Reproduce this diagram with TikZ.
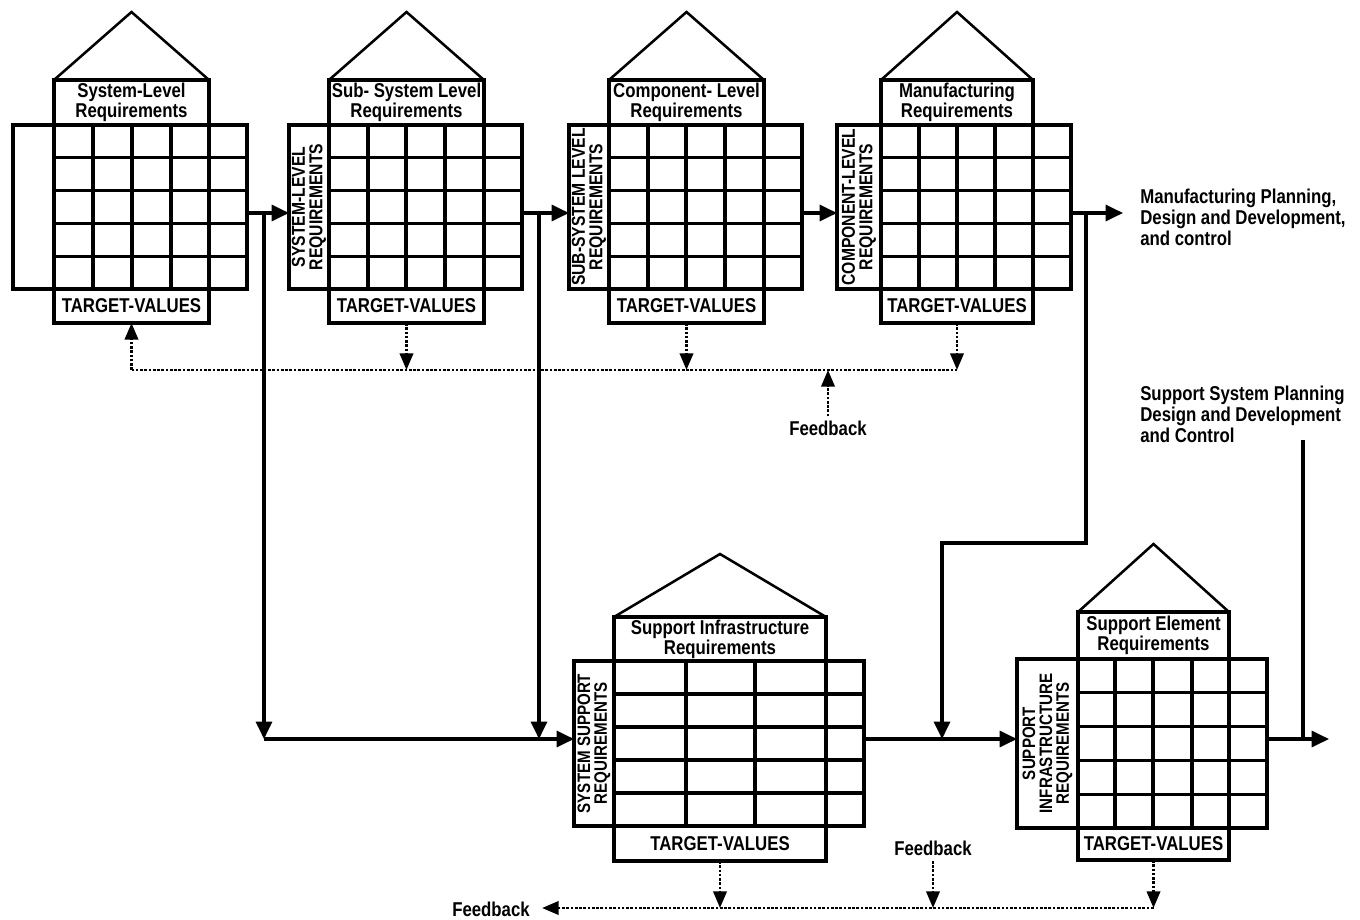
\documentclass[tikz,border=0pt]{standalone}
\usepackage{fontspec}
\setmainfont{Liberation Sans}[FakeStretch=0.84]
\usetikzlibrary{arrows.meta,fit,calc}
\newcommand\qfdtitlefont{\bfseries\fontsize{15}{15.2}\selectfont}
\newcommand\qfdsidefont{\bfseries\fontsize{15}{15.75}\selectfont}
\newcommand\qfdvfont{\bfseries\fontsize{14}{13.2}\selectfont}
\newcommand\qfdvsmallfont{\bfseries\fontsize{13.5}{12.6}\selectfont}
\tikzset{
  box/.style={draw, line width=2.3pt, inner sep=0pt, outer sep=0pt},
  gl/.style={line width=2.3pt},
  roof/.style={line width=1.9pt, line join=miter},
  arr/.style={line width=2.3pt, -{Triangle[length=13pt,width=12pt]}},
  ln/.style={line width=2.3pt},
  fb/.style={line width=2.1pt, dash pattern=on 2pt off 1.2pt},
  fbarr/.style={fb, -{Triangle[length=12.5pt,width=10pt]}},
  ttl/.style={font=\qfdtitlefont, align=center, inner sep=0pt},
  vlab/.style={font=\qfdvfont, align=center, rotate=90, inner sep=0pt},
  vlabs/.style={font=\qfdvsmallfont, align=center, rotate=90, inner sep=0pt},
  side/.style={font=\qfdsidefont, align=left, anchor=west, inner sep=0pt}
}
% #1 name, #2 left-box x, #3 grid x, #4 title right x, #5 grid right x,
% #6 roof-base y, #7 grid top y, #8 grid bottom y, #9 target-values bottom y
\newcommand\qfdhouse[9]{%
  \coordinate (#1-a) at (#2,#7);
  \coordinate (#1-b) at (#5,#8);
  \node[box, fit=(#1-a)(#1-b)] (#1-m) {};
  \coordinate (#1-c) at (#3,#6);
  \coordinate (#1-d) at (#4,#7);
  \node[box, fit=(#1-c)(#1-d)] (#1-t) {};
  \coordinate (#1-e) at (#3,#8);
  \coordinate (#1-f) at (#4,#9);
  \node[box, fit=(#1-e)(#1-f)] (#1-v) {};
  \node[ttl] at (#1-v) {TARGET-VALUES};
  \draw[gl] (#3,#7) -- (#3,#8);
  \foreach \k in {1,2,3,4} \draw[gl] (#3,{#7+(#8-#7)*\k/5}) -- (#5,{#7+(#8-#7)*\k/5});
}
\begin{document}
\begin{tikzpicture}[x=0.75pt,y=-0.75pt]
\fill[white] (0,0) rectangle (1360,920);
\useasboundingbox (0,0) rectangle (1360,920);

% ---- house 1
\qfdhouse{h1}{13}{54}{209}{247}{80}{125}{289}{323}
\foreach \x in {93,132,171,209} \draw[gl] (\x,125) -- (\x,289);
\coordinate (h1-p) at (131.5,12);
\draw[roof] (h1-t.north west) -- (h1-p) -- (h1-t.north east);
\node[ttl] at (h1-t) {System-Level\\Requirements};

% ---- house 2
\qfdhouse{h2}{289}{329}{484}{522}{80}{125}{289}{323}
\foreach \x in {368,406,445,484} \draw[gl] (\x,125) -- (\x,289);
\coordinate (h2-p) at (406.5,12);
\draw[roof] (h2-t.north west) -- (h2-p) -- (h2-t.north east);
\node[ttl] at (h2-t) {Sub- System Level\\Requirements};
\node[vlab] at ($(h2-a)!0.5!(h2-e)$) {SYSTEM-LEVEL\\REQUIREMENTS};

% ---- house 3
\qfdhouse{h3}{569}{609}{764}{802}{80}{125}{289}{323}
\foreach \x in {648,686,725,764} \draw[gl] (\x,125) -- (\x,289);
\coordinate (h3-p) at (686.5,12);
\draw[roof] (h3-t.north west) -- (h3-p) -- (h3-t.north east);
\node[ttl] at (h3-t) {Component- Level\\Requirements};
\node[vlab] at ($(h3-a)!0.5!(h3-e)$) {SUB-SYSTEM LEVEL\\REQUIREMENTS};

% ---- house 4
\qfdhouse{h4}{837}{881}{1033}{1071}{80}{125}{289}{323}
\foreach \x in {919,957,995,1033} \draw[gl] (\x,125) -- (\x,289);
\coordinate (h4-p) at (957,12);
\draw[roof] (h4-t.north west) -- (h4-p) -- (h4-t.north east);
\node[ttl] at (h4-t) {Manufacturing\\Requirements};
\node[vlab] at ($(h4-a)!0.5!(h4-e)$) {COMPONENT-LEVEL\\REQUIREMENTS};

% ---- house 5
\qfdhouse{h5}{574}{614}{826}{864}{617}{661}{826}{861}
\foreach \x in {686,755,826} \draw[gl] (\x,661) -- (\x,826);
\coordinate (h5-p) at (720,554);
\draw[roof] (h5-t.north west) -- (h5-p) -- (h5-t.north east);
\node[ttl] at (h5-t) {Support Infrastructure\\Requirements};
\node[vlabs] at ($(h5-a)!0.5!(h5-e)$) {SYSTEM SUPPORT\\REQUIREMENTS};

% ---- house 6
\qfdhouse{h6}{1017}{1078}{1229}{1267}{612}{659}{828}{860}
\foreach \x in {1115,1153,1192,1229} \draw[gl] (\x,659) -- (\x,828);
\coordinate (h6-p) at (1153.5,544);
\draw[roof] (h6-t.north west) -- (h6-p) -- (h6-t.north east);
\node[ttl] at (h6-t) {Support Element\\Requirements};
\node[vlabs] at ($(h6-a)!0.5!(h6-e)$) {SUPPORT\\INFRASTRUCTURE\\REQUIREMENTS};

% ---- side texts
\node[side] (mp) at (1140,217) {Manufacturing Planning,\\Design and Development,\\and control};
\node[side] (ss) at (1140,414) {Support System Planning\\Design and Development\\and Control};

% ---- reference rows
\coordinate (r1) at (0,213);
\coordinate (r2) at (0,739);
\coordinate (fbt) at (0,370);
\coordinate (fbb) at (0,908);

% ---- main flow
\draw[arr] (h1-m.east |- r1) -- (h2-m.west |- r1);
\draw[arr] (h2-m.east |- r1) -- (h3-m.west |- r1);
\draw[arr] (h3-m.east |- r1) -- (h4-m.west |- r1);
\draw[arr, shorten >=12.75pt] (h4-m.east |- r1) -- (mp.west |- r1);

\coordinate (j1) at (264,213);
\coordinate (j1d) at (264,739);
\draw[arr] (j1) -- (j1d);
\draw[arr] (j1d) -- (h5-m.west |- r2);
\coordinate (j2) at (539,213);
\coordinate (j2d) at (539,739);
\draw[arr] (j2) -- (j2d);
\coordinate (j3) at (1086,213);
\coordinate (j3c) at (942,543);
\coordinate (j3d) at (942,739);
\draw[arr] (j3) |- (j3c) -- (j3d);
\draw[arr] (h5-m.east |- r2) -- (h6-m.west |- r2);
\coordinate (out) at (1329,739);
\draw[arr] (h6-m.east |- r2) -- (out);
\coordinate (j4) at (1303,440);
\draw[ln] (j4) -- (j4 |- r2);

% ---- feedback (top)
\draw[fb] (h1-v.south |- fbt) -- (h4-v.south |- fbt);
\draw[fbarr] (h1-v.south |- fbt) -- (h1-v.south);
\foreach \h in {h2,h3,h4} \draw[fbarr] (\h-v.south) -- (\h-v.south |- fbt);
\node[ttl] (fbA) at (828,428) {Feedback};
\draw[fbarr, shorten <=3pt] (fbA.north) -- (fbA.north |- fbt);

% ---- feedback (bottom)
\node[ttl] (fbB) at (491,909) {Feedback};
\draw[fbarr, shorten >=9pt] (h6-v.south |- fbb) -- (fbB.east |- fbb);
\foreach \h in {h5,h6} \draw[fbarr] (\h-v.south) -- (\h-v.south |- fbb);
\node[ttl] (fbC) at (933,848) {Feedback};
\draw[fbarr, shorten <=4pt] (fbC.south) -- (fbC.south |- fbb);
\end{tikzpicture}
\end{document}
